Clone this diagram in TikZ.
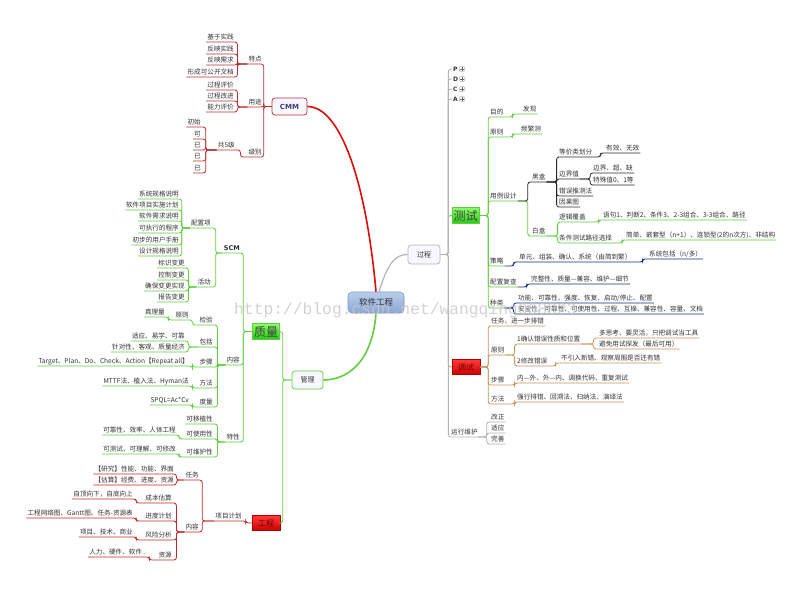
\documentclass[tikz,border=0pt]{standalone}
\usepackage{fontspec}
\setmainfont{Noto Sans CJK SC}
\newfontfamily\latb{DejaVu Sans}
\newfontfamily\wmfont{Liberation Mono}
\definecolor{txt}{HTML}{333333}
\definecolor{lgreen}{HTML}{62CE3E}
\definecolor{navyl}{HTML}{1C2A7E}
\definecolor{blackl}{HTML}{2A2A2A}
\definecolor{tanl}{HTML}{C8935C}
\definecolor{grayl}{HTML}{B4B4B4}
\definecolor{cmmd}{HTML}{B83232}
\definecolor{cmmred}{HTML}{E00808}
\definecolor{engred}{HTML}{C42828}
\definecolor{rootT}{HTML}{BBCDEA}
\definecolor{rootB}{HTML}{8CA7D5}
\definecolor{rootD}{HTML}{7D9ACB}
\definecolor{grT}{HTML}{8CFF6A}
\definecolor{grB}{HTML}{22C814}
\definecolor{rdT}{HTML}{FF3A3A}
\definecolor{rdB}{HTML}{CC0000}
\begin{document}
\begin{tikzpicture}[x=1pt,y=-1pt,
  lf/.style={font=\fontsize{6.6}{7}\selectfont, text=txt, inner xsep=1pt, inner ysep=1.1pt, text height=5.4pt, text depth=1.2pt},
  nodeR/.style={lf, anchor=south west},
  nodeL/.style={lf, anchor=south east},
  lineb/.style={line width=0.8pt, rounded corners=2.5pt},
  kgreen/.style={lineb, draw=lgreen},
  kblack/.style={lineb, draw=blackl},
  knavy/.style={lineb, draw=navyl},
  ktan/.style={lineb, draw=tanl},
  kgray/.style={lineb, draw=grayl},
  kcmm/.style={lineb, draw=cmmd},
  kqual/.style={lineb, draw=lgreen},
  keng/.style={lineb, draw=engred},
  root/.style={rounded corners=4pt, top color=rootT, bottom color=rootB, draw=rootD, line width=0.6pt, minimum width=56pt, minimum height=21pt, font=\fontsize{8.5}{9}\selectfont, text=black!80},
  softbox/.style={rounded corners=3pt, fill=blue!3, line width=0.7pt, font=\fontsize{7}{8}\selectfont, text=txt},
  greenbox/.style={top color=grT, bottom color=grB, draw=lgreen, line width=0.4pt, minimum width=27pt, minimum height=16pt, inner sep=0.5pt, font=\fontsize{12}{13}\selectfont, text=black!75},
  redbox/.style={top color=rdT, bottom color=rdB, draw=red!70!black, line width=0.4pt, minimum width=28pt, minimum height=15pt, inner sep=0.5pt, font=\fontsize{8}{9}\selectfont, text=red!45!black},
  pdca/.style={anchor=west, font=\latb\bfseries\fontsize{6}{6}\selectfont, inner sep=1pt, text=txt},
  plusicon/.style={circle, draw=gray!70, fill=white, minimum size=6pt, inner sep=0pt,
     path picture={\draw[line width=0.6pt, gray!80!black] ([xshift=-1.7pt]path picture bounding box.center) -- ([xshift=1.7pt]path picture bounding box.center) ([yshift=-1.7pt]path picture bounding box.center) -- ([yshift=1.7pt]path picture bounding box.center);}}
]
\fill[white] (0,0) rectangle (800,600);
\useasboundingbox (0,0) rectangle (800,600);

% ---------- main nodes
\node[root] (sw) at (376,302.5) {软件工程};
\node[softbox, draw=cmmd, minimum width=35pt, minimum height=17pt, font=\latb\bfseries\fontsize{7}{8}\selectfont, text=blue!25!black!75] (cmm) at (289.5,106.5) {CMM};
\node[softbox, draw=grayl, minimum width=32pt, minimum height=19pt] (guocheng) at (424,254.5) {过程};
\node[softbox, draw=lgreen, minimum width=31pt, minimum height=18pt] (guanli) at (307.5,380) {管理};
\node[greenbox] (ceshi) at (465.5,215.5) {测试};
\node[greenbox] (zhiliang) at (266,331.5) {质量};
\node[redbox] (tiaoshi) at (466,367) {调试};
\node[redbox] (gongcheng) at (266,523) {工程};

% ---------- main branches
\draw[line width=1.6pt, draw=cmmred] (sw.north) .. controls (366,180) and (340,106.5) .. (cmm.east);
\draw[line width=1.2pt, draw=grayl] ([xshift=3pt]sw.north) .. controls (388,262) and (396,254.5) .. (guocheng.west);
\draw[line width=1.6pt, draw=lgreen] (sw.south) .. controls (372,365) and (345,380) .. (guanli.east);

% ---------- 过程 branch
\node[pdca] (P) at (452,69) {P};
\node[pdca] (D) at (452,79) {D};
\node[pdca] (C) at (452,89) {C};
\node[pdca] (A) at (452,99) {A};
\node[plusicon] (Pi) at (462,69) {};
\node[plusicon] (Di) at (462,79) {};
\node[plusicon] (Ci) at (462,89) {};
\node[plusicon] (Ai) at (462,99) {};
\node[nodeR] (yunxing) at (450,437) {运行维护};

\draw[kgreen] (guocheng.east) -- ++(8,0) |- (ceshi.west);
\draw[ktan] (guocheng.east) -- ++(8,0) |- (tiaoshi.west);
\draw[kgray] (guocheng.east) -- ++(8,0) |- (yunxing.south east);
\foreach \n in {P,D,C,A} \draw[kgray] (guocheng.east) -- ++(8,0) |- (\n.west);

% ---------- 测试 subtree
\node[nodeR] (mudi) at (489,117) {目的};
\node[nodeR] (faxian) at (522,114) {发现};
\node[nodeR] (yz1) at (489,137) {原则};
\node[nodeR] (pinfan) at (520,134) {频繁测};
\node[nodeR] (yongli) at (489,201) {用例设计};
\node[nodeR] (heihe) at (531,182) {黑盒};
\node[nodeR] (dengjia) at (558,157) {等价类划分};
\node[nodeR] (youxiao) at (605,153) {有效、无效};
\node[nodeR] (bjz) at (558,179) {边界值};
\node[nodeR] (bjc) at (592,173) {边界、超、缺};
\node[nodeR] (tsz) at (592,185) {特殊值0、1等};
\node[nodeR] (cwtc) at (558,196) {错误推测法};
\node[nodeR] (yinguo) at (558,207) {因果图};
\node[nodeR] (baihe) at (531,236) {白盒};
\node[nodeR] (luoji) at (558,222) {逻辑覆盖};
\node[nodeR] (yuju) at (602,220) {语句1、判断2、条件3、2-3组合、3-3组合、路径};
\node[nodeR] (tjcs) at (558,243) {条件测试路径选择};
\node[nodeR] (jiandan) at (625,240) {简单、嵌套型（n+1）、连锁型(2的n次方)、非结构};
\node[nodeR] (celue) at (489,266) {策略};
\node[nodeR] (danyuan) at (518,262) {单元、组装、确认、系统（由简到繁）};
\node[nodeR] (xtbk) at (648,259) {系统包括（n/多）};
\node[nodeR] (pzfc) at (489,287) {配置复查};
\node[nodeR] (wanzheng) at (530,284) {完整性、质量—兼容、维护—细节};
\node[nodeR] (zhonglei) at (489,308) {种类};
\node[nodeR] (gongneng) at (517,303) {功能、可靠性、强度、恢复、启动/停止、配置};
\node[nodeR] (anquan) at (517,314) {安全性、可靠性、可使用性、过程、互操、兼容性、容量、文档};

\foreach \n in {mudi,yz1,yongli,celue,pzfc,zhonglei} \draw[kgreen] (ceshi.east) -- ++(9,0) |- (\n.south east);
\draw[kgreen] (mudi.south east) -- ++(8,0) |- (faxian.south east);
\draw[kgreen] (yz1.south east) -- ++(8,0) |- (pinfan.south east);
\draw[kgreen] (yongli.south east) -- ++(10,0) |- (baihe.south east);
\draw[kblack] (yongli.south east) -- ++(10,0) |- (heihe.south east);
\foreach \n in {dengjia,bjz,cwtc,yinguo} \draw[kblack] (heihe.south east) -- ++(10,0) |- (\n.south east);
\draw[kblack] (dengjia.south east) -- ++(7,0) |- (youxiao.south east);
\draw[kblack] (bjz.south east) -- ++(10,0) |- (bjc.south east);
\draw[kblack] (bjz.south east) -- ++(10,0) |- (tsz.south east);
\draw[kgreen] (baihe.south east) -- ++(11,0) |- (luoji.south east);
\draw[kgreen] (baihe.south east) -- ++(11,0) |- (tjcs.south east);
\draw[kgreen] (luoji.south east) -- ++(12,0) |- (yuju.south east);
\draw[kgreen] (tjcs.south east) -- ++(9,0) |- (jiandan.south east);
\draw[knavy] (celue.south east) -- ++(9,0) |- (danyuan.south east);
\draw[knavy] (danyuan.south east) -- ++(10,0) |- (xtbk.south east);
\draw[knavy] (pzfc.south east) -- ++(9,0) |- (wanzheng.south east);
\draw[knavy] (zhonglei.south east) -- ++(9,0) |- (gongneng.south east);
\draw[knavy] (zhonglei.south east) -- ++(9,0) |- (anquan.south east);

% ---------- 调试 subtree
\node[nodeR] (renwu2) at (490,326) {任务，进一步排错};
\node[nodeR] (yz2) at (490,355) {原则};
\node[nodeR] (queren) at (516,344) {1确认错误性质和位置};
\node[nodeR] (duosikao) at (598,338) {多思考、要灵活，只把调试当工具};
\node[nodeR] (bimian) at (598,349) {避免用试探发（最后可用）};
\node[nodeR] (xiugai) at (516,366) {2修改错误};
\node[nodeR] (buyin) at (560,363) {不引入新错、观察周围是否还有错};
\node[nodeR] (bz2) at (490,385) {步骤};
\node[nodeR] (neiwai) at (516,383) {内—外、外—内、调换代码、重复测试};
\node[nodeR] (ff2) at (490,404) {方法};
\node[nodeR] (qiangxing) at (516,402) {强行排错、回溯法、归纳法、演绎法};

\foreach \n in {renwu2,yz2,bz2,ff2} \draw[ktan] (tiaoshi.east) -- ++(8,0) |- (\n.south east);
\draw[ktan] (yz2.south east) -- ++(9,0) |- (queren.south east);
\draw[ktan] (yz2.south east) -- ++(9,0) |- (xiugai.south east);
\draw[ktan] (queren.south east) -- ++(12,0) |- (duosikao.south east);
\draw[ktan] (queren.south east) -- ++(12,0) |- (bimian.south east);
\draw[ktan] (xiugai.south east) -- ++(7,0) |- (buyin.south east);
\draw[ktan] (bz2.south east) -- ++(9,0) |- (neiwai.south east);
\draw[ktan] (ff2.south east) -- ++(9,0) |- (qiangxing.south east);

% ---------- 运行维护
\node[nodeR] (gaizheng) at (490,422) {改正};
\node[nodeR] (shiying) at (490,433) {适应};
\node[nodeR] (wanshan) at (490,444) {完善};
\foreach \n in {gaizheng,shiying,wanshan} \draw[kgray] (yunxing.south east) -- ++(8,0) |- (\n.south east);

% ---------- CMM subtree
\node[nodeL] (tedian) at (263,64) {特点};
\node[nodeL] (jiyu) at (235,42) {基于实践};
\node[nodeL] (fy1) at (235,54) {反映实践};
\node[nodeL] (fy2) at (235,65) {反映需求};
\node[nodeL] (xc) at (235,77) {形成可公开文档};
\node[nodeL] (yongtu) at (263,107) {用途};
\node[nodeL] (gcpj) at (235,90) {过程评价};
\node[nodeL] (gcgj) at (235,101) {过程改进};
\node[nodeL] (nlpj) at (235,112) {能力评价};
\node[nodeL] (jibie) at (263,157) {级别};
\node[nodeL] (gong5) at (236,150) {共5级};
\node[nodeL] (chushi) at (202,127) {初始};
\node[nodeL] (ke) at (202,139) {可};
\node[nodeL] (yi1) at (202,150) {已};
\node[nodeL] (yi2) at (202,161) {已};
\node[nodeL] (yi3) at (202,173) {已};

\foreach \n in {tedian,yongtu,jibie} \draw[kcmm] (cmm.west) -- ++(-8,0) |- (\n.south west);
\foreach \n in {jiyu,fy1,fy2,xc} \draw[kcmm] (tedian.south west) -- ++(-10,0) |- (\n.south west);
\foreach \n in {gcpj,gcgj,nlpj} \draw[kcmm] (yongtu.south west) -- ++(-10,0) |- (\n.south west);
\draw[kcmm] (jibie.south west) -- ++(-7,0) |- (gong5.south west);
\foreach \n in {chushi,ke,yi1,yi2,yi3} \draw[kcmm] (gong5.south west) -- ++(-11,0) |- (\n.south west);

% ---------- 质量 subtree
\node[nodeL, font=\latb\bfseries\fontsize{6.5}{7}\selectfont] (scm) at (241,253) {SCM};
\node[nodeL] (pzx) at (212,228) {配置项};
\node[nodeL] (huodong) at (212,287) {活动};
\node[nodeL] (xtgg) at (180,199) {系统规格说明};
\node[nodeL] (rjxm) at (180,210) {软件项目实施计划};
\node[nodeL] (rjxq) at (180,221) {软件需求说明};
\node[nodeL] (kzx) at (180,233) {可执行的程序};
\node[nodeL] (cbyh) at (180,245) {初步的用户手册};
\node[nodeL] (sjgg) at (180,256) {设计规格说明};
\node[nodeL] (bsbg) at (186,268) {标识变更};
\node[nodeL] (kzbg) at (186,280) {控制变更};
\node[nodeL] (qbbg) at (186,291) {确保变更实现};
\node[nodeL] (bgbg) at (186,302) {报告变更};

\node[nodeL] (nr1) at (241,365) {内容};
\node[nodeL] (jianyan) at (214,325) {检验};
\node[nodeL] (yz3) at (190,320) {原则};
\node[nodeL] (zhenli) at (166,317) {真理量};
\node[nodeL] (baokuo) at (214,347) {包括};
\node[nodeL] (shiying2) at (186,341) {适应、易学、可靠};
\node[nodeL] (zhendui) at (186,352) {针对性、客观、质量经济};
\node[nodeL] (bz1) at (214,367) {步骤};
\node[nodeL] (target) at (190,366) {Target、Plan、Do、Check、Action【Repeat all】};
\node[nodeL] (ff1) at (214,388) {方法};
\node[nodeL] (mttf) at (190,386) {MTTF法、植入法、Hyman法};
\node[nodeL] (duliang) at (214,407) {度量};
\node[nodeL] (spql) at (190,405) {SPQL=Ac*Cv};

\node[nodeL] (tezheng) at (241,442) {特性};
\node[nodeL] (kyz) at (214,424) {可移植性};
\node[nodeL] (kshy) at (214,439) {可使用性};
\node[nodeL] (kkx) at (177,435) {可靠性、效率、人体工程};
\node[nodeL] (kwh) at (214,457) {可维护性};
\node[nodeL] (kcs) at (177,454) {可测试、可理解、可修改};

\foreach \n in {scm,nr1,tezheng} \draw[kqual] (zhiliang.west) -- ++(-9,0) |- (\n.south west);
\foreach \n in {pzx,huodong} \draw[kqual] (scm.south west) -- ++(-7,0) |- (\n.south west);
\foreach \n in {xtgg,rjxm,rjxq,kzx,cbyh,sjgg} \draw[kqual] (pzx.south west) -- ++(-8,0) |- (\n.south west);
\foreach \n in {bsbg,kzbg,qbbg,bgbg} \draw[kqual] (huodong.south west) -- ++(-8,0) |- (\n.south west);
\foreach \n in {jianyan,baokuo,bz1,ff1,duliang} \draw[kqual] (nr1.south west) -- ++(-8,0) |- (\n.south west);
\draw[kqual] (jianyan.south west) -- ++(-6,0) |- (yz3.south west);
\draw[kqual] (yz3.south west) -- ++(-6,0) |- (zhenli.south west);
\draw[kqual] (baokuo.south west) -- ++(-10,0) |- (shiying2.south west);
\draw[kqual] (baokuo.south west) -- ++(-10,0) |- (zhendui.south west);
\draw[kqual] (bz1.south west) -- ++(-6,0) |- (target.south west);
\draw[kqual] (ff1.south west) -- ++(-6,0) |- (mttf.south west);
\draw[kqual] (duliang.south west) -- ++(-6,0) |- (spql.south west);
\foreach \n in {kyz,kshy,kwh} \draw[kqual] (tezheng.south west) -- ++(-8,0) |- (\n.south west);
\draw[kqual] (kshy.south west) -- ++(-6,0) |- (kkx.south west);
\draw[kqual] (kwh.south west) -- ++(-6,0) |- (kcs.south west);

% ---------- 管理
\draw[kqual] (guanli.west) -- ++(-9,0) |- (zhiliang.east);
\draw[kqual] (guanli.west) -- ++(-9,0) |- (gongcheng.east);

% ---------- 工程 subtree
\node[nodeL] (xmjh) at (243,521) {项目计划};
\node[nodeL] (renwu1) at (200,480) {任务};
\node[nodeL] (yanjiu) at (175,474) {【研究】性能、功能、界面};
\node[nodeL] (gusuan) at (175,485) {【估算】经费、进度、资源};
\node[nodeL] (nr2) at (200,532) {内容};
\node[nodeL] (cbgs) at (173,503) {成本估算};
\node[nodeL] (zdxx) at (134,499) {自顶向下，自底向上};
\node[nodeL] (jdjh) at (173,521) {进度计划};
\node[nodeL] (gcwl) at (134,518) {工程网络图、Gantt图、任务-资源表};
\node[nodeL] (fxfx) at (173,540) {风险分析};
\node[nodeL] (xmjs) at (134,537) {项目、技术、商业};
\node[nodeL] (ziyuan) at (173,560) {资源};
\node[nodeL] (rlyj) at (147,557) {人力、硬件、软件..};

\draw[keng] (gongcheng.west) -- ++(-6,0) |- (xmjh.south west);
\foreach \n in {renwu1,nr2} \draw[keng] (xmjh.south west) -- ++(-12,0) |- (\n.south west);
\foreach \n in {yanjiu,gusuan} \draw[keng] (renwu1.south west) -- ++(-8,0) |- (\n.south west);
\foreach \n in {cbgs,jdjh,fxfx,ziyuan} \draw[keng] (nr2.south west) -- ++(-8,0) |- (\n.south west);
\draw[keng] (cbgs.south west) -- ++(-8,0) |- (zdxx.south west);
\draw[keng] (jdjh.south west) -- ++(-8,0) |- (gcwl.south west);
\draw[keng] (fxfx.south west) -- ++(-8,0) |- (xmjs.south west);
\draw[keng] (ziyuan.south west) -- ++(-8,0) |- (rlyj.south west);

% ---------- watermark
\node[anchor=base west, inner sep=0pt, font=\wmfont\fontsize{16.3}{18}\selectfont, text=black!22, text opacity=0.8] (wmk) at (234,314) {http://blog.csdn.net/wangqing008823};
\end{tikzpicture}
\end{document}
